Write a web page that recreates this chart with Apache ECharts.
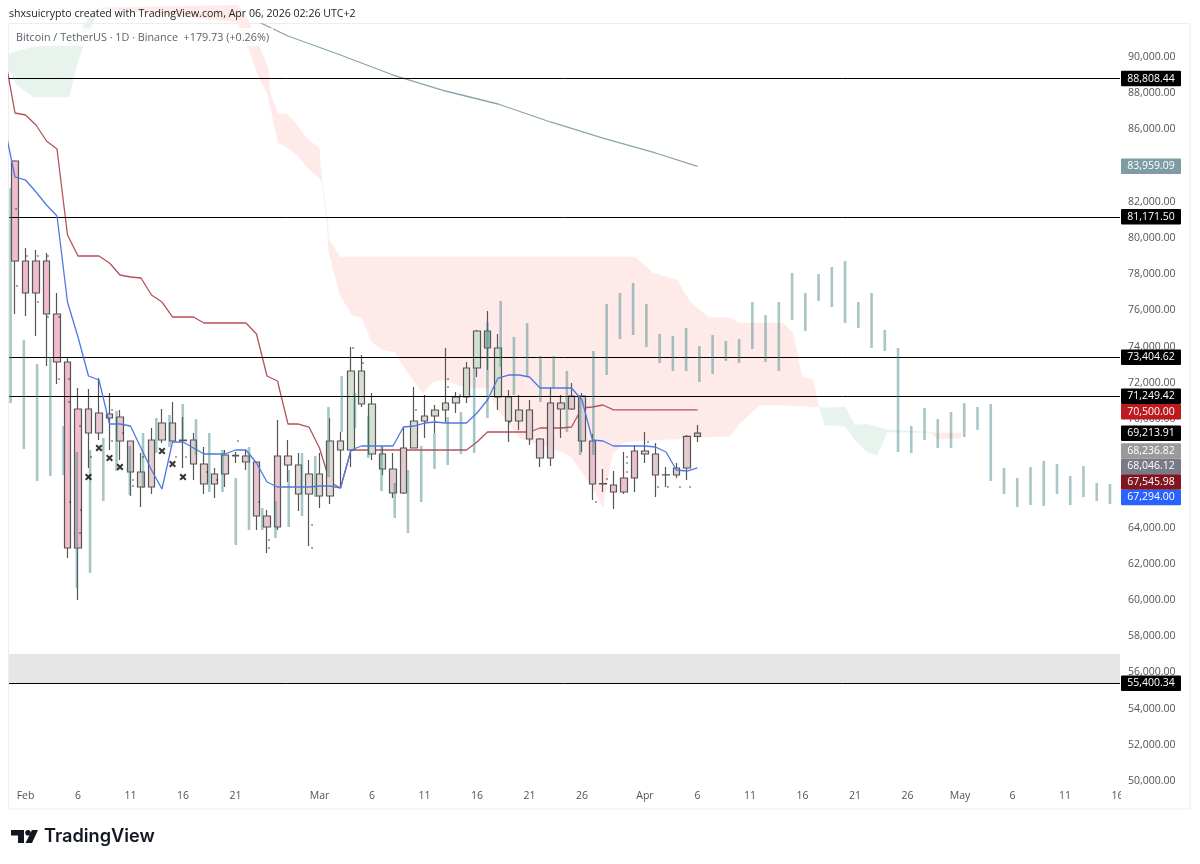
<!DOCTYPE html>
<html>
<head>
<meta charset="utf-8">
<title>Bitcoin / TetherUS</title>
<script src="https://cdn.jsdelivr.net/npm/echarts@6/dist/echarts.min.js"></script>
<style>
  html, body { margin: 0; padding: 0; background: #fff; }
  #chart { width: 1200px; height: 864px; }
</style>
</head>
<body>
<div id="chart"></div>
<script>
// Days are counted from Feb 1
const firstCandleDay = -1;
const candleOpen = [84254,78729,76961,78729,75801,73149,62872,70552,69226,70276,70110,68784,67071,66243,68839,69778,68839,68839,67513,66408,66961,67985,67955,67624,64640,64032,67955,67458,65856,66961,65745,68784,68287,72651,70828,68066,67237,65911,68397,69889,70165,70497,70883,71215,72817,74861,73922,71215,69889,70497,68894,67845,70883,70552,71270,68784,66430,66353,65966,66740,68231,68066,66920,66905,67292,69034];
const candleClose = [78729,76961,78729,75801,73149,62872,70552,69226,70331,70054,68784,67071,66243,68839,69778,68784,68800,67513,66408,66961,68010,67955,67624,64640,64032,67955,67458,65856,66961,65745,68784,68287,72651,70828,68066,67237,65911,68397,69889,70165,70497,70883,71215,72817,74861,73922,71215,69889,70497,68894,67845,70883,70552,71270,68784,66408,66408,65966,66740,68231,68066,66905,66905,67292,69034,69214];
const candleLow = [75801,75690,74585,72928,71933,62320,59999,67292,68839,68287,67734,65745,65137,65856,68673,68673,67292,66629,65856,65635,66243,67568,67182,63867,62596,63867,66519,64916,62983,65082,65303,66243,67347,70662,67734,66905,65635,65856,68397,68949,69226,69833,70331,70883,72320,72706,70497,68729,69391,68563,67347,67403,68949,70497,68176,65524,65966,65027,65856,65966,67568,65690,66243,66740,66629,68729];
const candleHigh = [84300,79447,79337,79171,76961,73369,71712,71657,72264,71436,70497,68800,68121,69502,70552,70939,70110,69226,68452,67292,68287,68176,68287,67650,64971,69944,68839,68121,67734,68121,70054,69281,73977,73535,71436,68452,68121,69502,71767,71325,70773,73922,71491,73149,74916,75966,74695,71601,71325,71049,68950,71767,71325,71988,71436,69171,67237,67126,68176,68563,69281,68673,67347,67568,69115,69668];

// Conversion and base lines, one value a day starting at firstLineDay
const firstLineDay = -2;
const tenkanValues = [86187,83370,83204,82541,81823,81215,76463,74530,72375,72154,69723,69723,69612,68397,67182,66132,68729,68729,68397,68066,68066,68066,68287,68287,67568,66519,66243,66243,66243,66243,66298,66298,66187,68287,68507,68507,68507,68507,69557,69612,69778,69833,69778,69778,69778,70331,71049,72264,72430,72430,72320,71712,71712,71712,71712,71049,68839,68784,68507,68507,68507,68507,68452,68176,67182,67126,67294];
const kijunValues = [90110,86906,86795,86243,85359,84917,80165,79005,79005,79005,78618,77955,77845,77789,76850,76463,75635,75635,75635,75303,75303,75303,75303,75303,74695,72375,72099,69723,69723,69557,68397,66519,66187,68287,68287,68287,68287,68287,68287,68287,68287,68287,68287,68287,68287,68729,69281,69281,69281,69281,69281,69502,69502,69502,69557,70607,70662,70773,70500,70500,70500,70500,70500,70500,70500,70500,70500];

// Slow moving average
const maDays = [22,25,30,35,40,45,50,55,60,64];
const maValues = [91989,91160,90110,89005,88121,87403,86409,85524,84696,83959];

// Projected bars pasted from an older move, spaced 1.26 days apart
const barFirstDay = -1.42;
const barDayStep = 1.2615;
const barHigh = [82762,74364,73038,73425,69612,68176,68287,68949,70441,68507,69226,70054,70220,70828,69999,69226,68287,66740,68452,65082,65469,67182,68121,67955,70662,72375,71436,70165,68507,66463,67182,68507,69226,70110,70386,72817,75359,76519,74530,75303,73480,73480,72651,71325,73756,76353,76961,77513,76353,74695,74585,75027,74032,74640,74309,74419,76463,75745,76463,78066,76961,78010,78397,78729,76463,76961,74916,73922,69612,70607,69999,70386,70883,70662,70828,67292,66740,67347,67679,67513,66850,67403,66463,66408];
const barLow = [70883,68342,66574,66850,66905,60662,61491,65469,67126,65800,66187,68121,68452,68839,68010,65966,65966,63038,63867,63867,63424,64032,64640,65690,66795,69281,69502,67845,66021,64529,63701,65413,67237,67458,68066,68121,70054,72872,71325,72320,70939,71712,69281,68010,68010,72430,74419,74640,73977,73093,72651,72651,72043,72485,73204,73093,73867,73149,72651,75469,74861,76519,76187,75303,75027,73922,73756,68176,68121,68839,68397,68397,69005,69391,66574,65856,65137,65248,65192,65856,65248,65690,65469,65303];

// Ichimoku cloud outline
const cloudDays = [-1.57,-0.81,0.81,3.29,4.14,4.90,5.67,6.62,7.10,20.24,21.19,22.14,23.10,23.29,24.05,24.90,25.86,26.62,27.95,28.24,28.71,28.90,29.95,31.10,32.05,33.00,33.95,35.19,36.43,37.86,38.81,39.76,40.90,42.05,43.95,45.19,47.10,49.00,50.62,51.86,53.76,55.00,55.86,56.90,58.05,59.76,62.05,63.29,65.00,67.10,68.05,69.95,72.14,73.10,73.95,75.00,75.57,76.14,78.05,79.00,80.14,81.10,82.05,86.14,86.90,89.00,89.19];
const spanA = [90165,90331,90552,90718,90828,91215,91823,92597,92707,91934,90552,89005,87900,87348,85248,85027,84585,84033,83315,83094,80884,79226,76850,75745,75580,74254,73811,73701,72541,71436,72043,72154,71933,71712,71712,70386,68949,68563,68287,67955,66463,65137,68010,68673,68784,68839,68894,69005,69005,69060,69778,70773,70773,70718,70718,70662,70662,70607,70662,69668,69723,69557,69391,69281,68894,68949,69226];
const spanB = [89282,88453,87790,87790,87790,89558,90939,92154,92707,92873,92044,90773,89392,88011,86851,86851,86243,85580,84972,83094,81160,79944,78950,78950,78950,78950,78950,78950,78950,78950,78950,78950,78950,78950,78950,78950,78950,78950,78950,78950,78950,78950,78950,78950,78950,78066,77679,76463,75635,75580,75303,75303,75303,74751,72319,72154,70662,69668,69612,68839,68176,68010,69281,69250,69226,69226,69226];

// Horizontal levels and the grey zone
const levelValues = [88808.44,81171.50,73404.62,71249.42,55400.34];
const zoneTop = 57016;
const zoneBottom = 55358;

// Price tags on the right scale
const tagValues = [88808.44,83959.09,81171.50,73404.62,71249.42,70500.00,69213.91,68236.82,68046.12,67545.98,67294.00,55400.34];
const tagColors = ['#000000','#7f9ca5','#000000','#000000','#000000','#bd1a1f','#000000','#9a9a9a','#787b86','#7f1620','#2962ff','#000000'];

// Cross markers
const crossDays = [6,7,8,9,13,14,15];
const crossValues = [66795,68397,67845,67347,68231,67513,66795];

// Small specks around the candles
const speckDays = [-0.9,-0.81,0.14,1.19,1.19,2.14,2.14,3.19,3.19,4.14,4.14,4.24,5.19,5.29,5.19,6.24,8.24,8.24,9.29,10.24,10.24,11.19,14.33,15.29,17.29,18.24,20.24,22.24,23.19,23.19,27.29,27.29,31.19,32.14,37.19,40.24,40.24,41.38,46.14,54.33,55.38,57.29,57.29,57.29,59.29,60.24,61.19,62.33,63.29];
const speckValues = [81602,77347,79005,79005,76463,79005,75635,75635,72209,72209,70939,65413,69612,64971,63701,67900,70497,68784,69226,66629,66298,67900,67900,67900,67071,66629,68784,65413,63314,62872,64143,62872,73922,73093,70497,72209,71767,71325,69833,65413,66684,67900,67568,67071,68729,66243,66243,66243,66243];

// Axis ticks
const priceTicks = [50000,52000,54000,56000,58000,60000,62000,64000,66000,68000,70000,72000,74000,76000,78000,80000,82000,84000,86000,88000,90000];
const dateTicks = [0,5,10,15,20,28,33,38,43,48,53,59,64,69,74,79,84,89,94,99,104];
const dateLabels = ['Feb','6','11','16','21','Mar','6','11','16','21','26','Apr','6','11','16','21','26','May','6','11','16'];

const FONT = '"Open Sans", "Noto Sans", sans-serif';
const TAG_HEIGHT = 15.5;

function formatPrice(v) {
    return v.toLocaleString('en-US', { minimumFractionDigits: 2, maximumFractionDigits: 2 });
}

// Candle fill drifts with the move, the border stays the same
function candleTone(i) {
    if (i <= 6) return '#f2bccc';
    if (i <= 11) return '#e8c8d0';
    if (i <= 20) return '#e5d0d0';
    if (i <= 25) return '#e8c4d0';
    if (i <= 31) return '#e4d8d0';
    if (i <= 35) return '#d5e0d0';
    if (i <= 37) return '#e2ccd0';
    if (i <= 43) return '#d8dcd0';
    if (i === 44) return '#d0e0d0';
    if (i === 45) return '#9cc8b0';
    if (i === 46) return '#d0e0cc';
    if (i === 47) return '#dcdcd4';
    if (i === 48) return '#e0d4d4';
    if (i <= 54) return '#e4ccd2';
    if (i <= 59) return '#ecc0d0';
    return '#e2ccd0';
}

const candleData = candleOpen.map((open, i) => {
    const tone = candleTone(i);
    return {
        value: [firstCandleDay + i, open, candleClose[i], candleLow[i], candleHigh[i]],
        itemStyle: { color: tone, color0: tone, borderColor: '#555', borderColor0: '#555', borderWidth: 1.2 }
    };
});

function linePoints(values, startDay) {
    return values.map((v, i) => [startDay + i, v]);
}

const barData = barHigh.map((high, i) => [barFirstDay + i * barDayStep, barLow[i], high]);

const cloudData = cloudDays.slice(0, -1).map((day, i) => [
    day, spanA[i], spanB[i], cloudDays[i + 1], spanA[i + 1], spanB[i + 1]
]);

function renderCloud(params, api) {
    const a1 = api.value(1), b1 = api.value(2), a2 = api.value(4), b2 = api.value(5);
    const points = [
        api.coord([api.value(0), a1]),
        api.coord([api.value(3), a2]),
        api.coord([api.value(3), b2]),
        api.coord([api.value(0), b1])
    ];
    const green = a1 + a2 >= b1 + b2;
    const color = green ? '#e9f3ed' : '#feebe9';
    return { type: 'polygon', shape: { points }, style: { fill: color, stroke: color, lineWidth: 0.5 } };
}

function renderBar(params, api) {
    const low = api.coord([api.value(0), api.value(1)]);
    const high = api.coord([api.value(0), api.value(2)]);
    return {
        type: 'line',
        shape: { x1: low[0], y1: low[1], x2: high[0], y2: high[1] },
        style: { stroke: 'rgba(60,130,130,0.45)', lineWidth: 2.6 }
    };
}

// Tags that would overlap get pushed down, like on the real price scale
function tagTops(api) {
    let bottom = -Infinity;
    return tagValues.map(v => {
        const top = Math.max(api.coord([0, v])[1] - TAG_HEIGHT / 2, bottom);
        bottom = top + TAG_HEIGHT;
        return top;
    });
}

function renderTag(params, api) {
    const i = params.dataIndex;
    const top = tagTops(api)[i];
    const left = params.coordSys.x + params.coordSys.width + 1;
    return {
        type: 'group',
        children: [
            { type: 'rect', shape: { x: left, y: top, width: 60, height: TAG_HEIGHT, r: 1 }, style: { fill: tagColors[i] } },
            {
                type: 'text',
                style: {
                    x: left + 30, y: top + TAG_HEIGHT / 2, text: formatPrice(tagValues[i]),
                    fill: '#fff', font: '10.5px ' + FONT, textAlign: 'center', textVerticalAlign: 'middle'
                }
            }
        ]
    };
}

const chart = echarts.init(document.getElementById('chart'), null, { renderer: 'canvas' });

chart.setOption({
    animation: false,
    backgroundColor: '#fff',
    title: [
        {
            text: 'shxsuicrypto created with TradingView.com, Apr 06, 2026 02:26 UTC+2',
            left: 9, top: 8, padding: 0,
            textStyle: { fontFamily: FONT, fontSize: 10.6, fontWeight: 'normal', color: '#222' }
        },
        {
            text: 'Bitcoin / TetherUS · 1D · Binance  +179.73 (+0.26%)',
            left: 12, top: 28, padding: [4, 4, 3, 4], z: 20,
            backgroundColor: 'rgba(255,255,255,0.85)',
            textStyle: { fontFamily: FONT, fontSize: 10.8, fontWeight: 'normal', color: '#5d606b' }
        }
    ],
    grid: { left: 9, right: 80, top: 24, bottom: 79 },
    xAxis: {
        type: 'value',
        min: -1.571,
        max: 104.24,
        splitLine: { show: false },
        axisLine: { show: false },
        axisTick: { show: false },
        axisLabel: {
            customValues: dateTicks,
            formatter: v => dateLabels[dateTicks.indexOf(v)],
            color: '#50535e', fontFamily: FONT, fontSize: 10.5, margin: 6
        }
    },
    yAxis: {
        type: 'value',
        position: 'right',
        min: 49778,
        max: 91823,
        splitLine: { show: false },
        axisLine: { show: false },
        axisTick: { show: false },
        axisLabel: {
            customValues: priceTicks,
            formatter: formatPrice,
            color: '#50535e', fontFamily: FONT, fontSize: 10.5, margin: 8
        }
    },
    series: [
        {
            name: 'Cloud', type: 'custom', z: 1, silent: true,
            renderItem: renderCloud, data: cloudData,
            encode: { x: [0, 3], y: [1, 2, 4, 5] }
        },
        {
            name: 'Levels', type: 'line', z: 2, data: [], silent: true,
            markArea: {
                silent: true,
                itemStyle: { color: '#e6e6e6' },
                data: [[{ yAxis: zoneTop }, { yAxis: zoneBottom }]]
            },
            markLine: {
                silent: true, symbol: 'none', animation: false,
                label: { show: false },
                lineStyle: { color: '#000', width: 1, type: 'solid' },
                data: levelValues.map(v => ({ yAxis: v }))
            }
        },
        {
            name: 'MA', type: 'line', z: 3, data: maDays.map((d, i) => [d, maValues[i]]),
            showSymbol: false, lineStyle: { color: '#8aa5ad', width: 1.3 }
        },
        {
            name: 'Kijun', type: 'line', z: 3, data: linePoints(kijunValues, firstLineDay),
            showSymbol: false, lineStyle: { color: '#b8505c', width: 1.3 }
        },
        {
            name: 'BTCUSDT', type: 'candlestick', z: 4, data: candleData,
            barWidth: 7, encode: { x: 0, y: [1, 2, 3, 4] }
        },
        {
            name: 'Tenkan', type: 'line', z: 5, data: linePoints(tenkanValues, firstLineDay),
            showSymbol: false, lineStyle: { color: '#4f78e6', width: 1.3 }
        },
        {
            name: 'Projection', type: 'custom', z: 6, silent: true,
            renderItem: renderBar, data: barData,
            encode: { x: 0, y: [1, 2] }
        },
        {
            name: 'Specks', type: 'scatter', z: 7, silent: true,
            symbol: 'rect', symbolSize: 1.3,
            itemStyle: { color: '#222' },
            data: speckDays.map((d, i) => [d, speckValues[i]])
        },
        {
            name: 'Cross', type: 'scatter', z: 7, silent: true,
            symbol: 'path://M2 0L5 3L8 0L10 2L7 5L10 8L8 10L5 7L2 10L0 8L3 5L0 2Z',
            symbolSize: 7,
            itemStyle: { color: '#000' },
            data: crossDays.map((d, i) => [d, crossValues[i]])
        },
        {
            name: 'Tags', type: 'custom', z: 30, silent: true, clip: false,
            renderItem: renderTag,
            data: tagValues.map(v => [0, v]),
            encode: { x: 0, y: 1 }
        }
    ],
    graphic: [
        // chart frame
        { type: 'rect', z: 0, silent: true, shape: { x: 8.5, y: 23.5, width: 1181.5, height: 785.5 }, style: { fill: 'none', stroke: '#eeeeee', lineWidth: 1 } },
        // the pane cuts off the lowest price label and the last date label
        { type: 'rect', z: 40, silent: true, shape: { x: 1121, y: 784.5, width: 64, height: 20 }, style: { fill: '#fff' } },
        // logo
        { type: 'polygon', z: 40, silent: true, shape: { points: [[11, 830], [24, 830], [24, 843], [18, 843], [18, 835.5], [11, 835.5]] }, style: { fill: '#131722' } },
        { type: 'circle', z: 40, silent: true, shape: { cx: 28, cy: 832.8, r: 2.8 }, style: { fill: '#131722' } },
        { type: 'polygon', z: 40, silent: true, shape: { points: [[32, 830], [38, 830], [32, 843], [25.5, 843]] }, style: { fill: '#131722' } },
        {
            type: 'text', z: 40, silent: true,
            style: { x: 44, y: 836.5, text: 'TradingView', fill: '#131722', font: '600 18.2px Inter, Roboto, sans-serif', textVerticalAlign: 'middle' }
        }
    ]
});
</script>
</body>
</html>
